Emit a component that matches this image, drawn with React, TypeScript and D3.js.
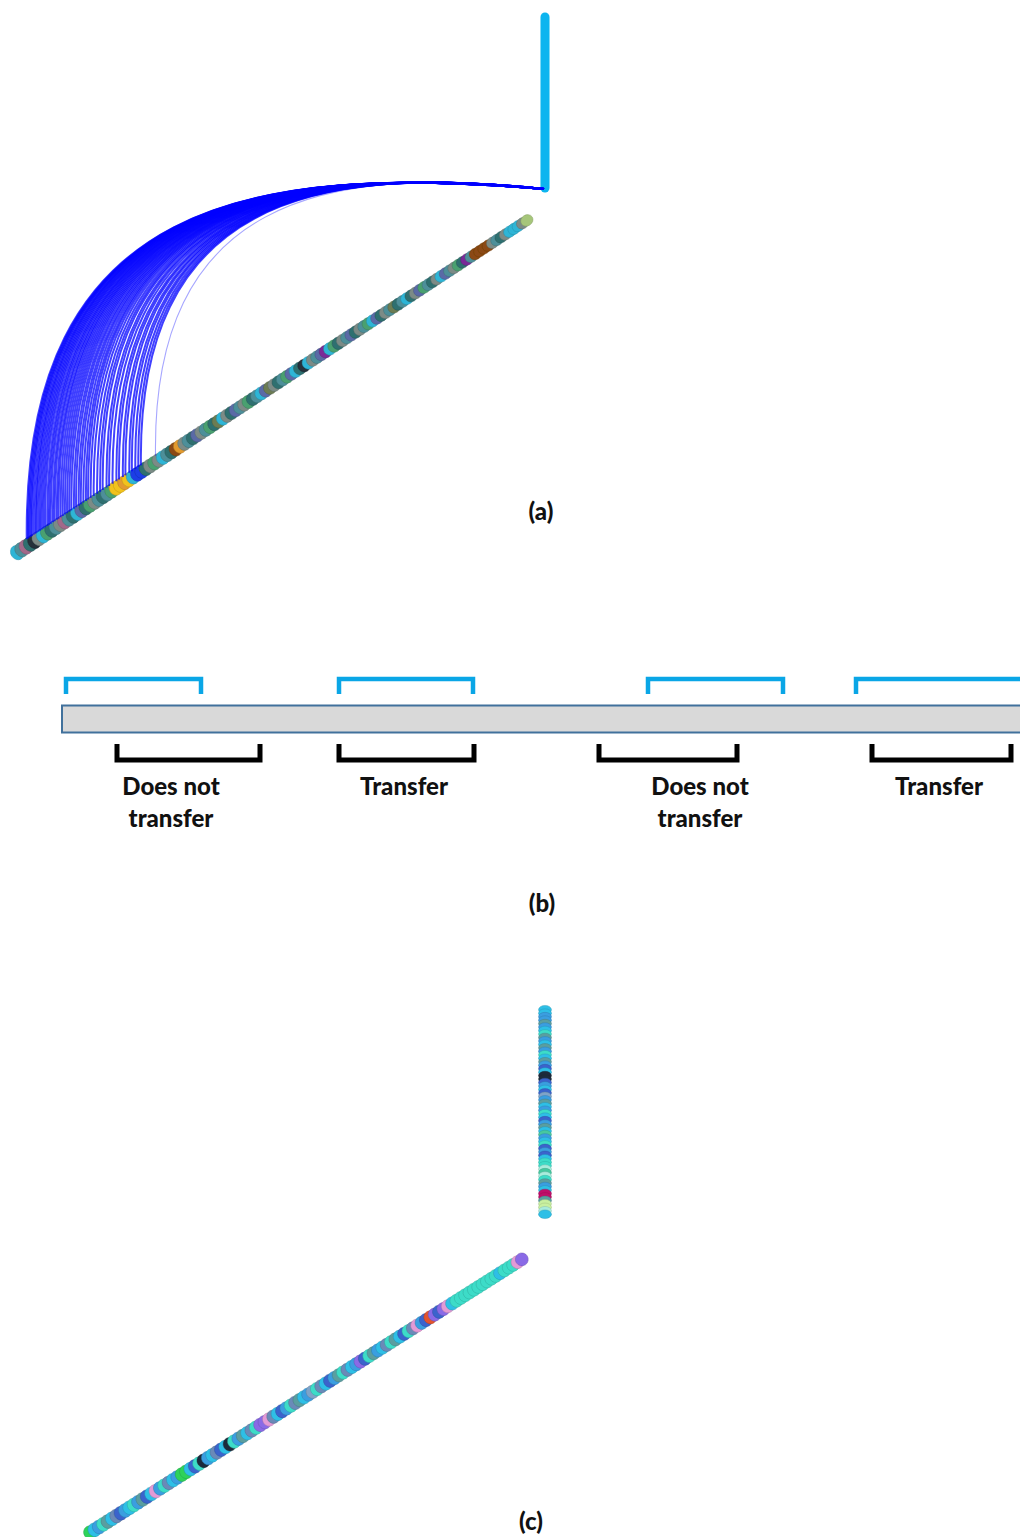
import React from 'react';
import * as d3 from 'd3';

// ---------- DATA ----------
// Panel (a): colours of the discs of the diagonal tube, bottom-left -> top-right
const paletteA: Record<string, string> = {
  a: '#2f6f6f', b: '#4d8f99', c: '#2fb5d6', d: '#7b8b86', e: '#6c7c52', f: '#5a6aa6',
  g: '#8b4a12', h: '#e39a2e', i: '#f2c21c', j: '#1c3de6', k: '#7a2a98', l: '#25303a',
  m: '#4aa070', n: '#a2698a', o: '#a6c67a',
};
const tubeA =
  'cbnaldcmab' + 'dnbacfamdb' + 'abmiihicjj' + 'admdcbaghd' + 'bafdbmaecd' + 'afbdmabcfe' +
  'dabmfcalcd' + 'bfkcmadbfa' + 'dbmcfadbea' + 'bcadfmbadc' + 'fbdmakbggg' + 'gdbadcccdo';
// disc indices (along tubeA) where the links start
const arcSourcesA = [
  3.0, 3.3, 3.6, 3.9, 4.2, 4.6, 5.0, 5.3, 5.7, 6.1, 6.5, 6.9, 7.3, 7.8, 8.2, 8.6, 9.1, 9.5,
  10.0, 10.4, 10.9, 11.4, 11.9, 12.4, 12.9, 13.4, 14.0, 14.5, 15.1, 15.6, 16.2, 16.8, 17.3,
  17.9, 18.6, 19.4, 20.1, 20.7, 21.6, 22.2, 23.0, 23.9, 24.5, 25.4, 26.0, 26.9, 27.5, 28.3,
  29.0, 29.6, 33.0,
];

// Panel (c)
const paletteC: Record<string, string> = {
  a: '#3ddcc8', b: '#2fbfe6', c: '#3a9ee0', d: '#3a64cc', e: '#6a8ab8', f: '#8a6ae6',
  g: '#e39ad6', h: '#2ed25a', i: '#1e2c3c', j: '#5a9ea0', k: '#e2532e', l: '#a8ecdc',
  m: '#c0106a', n: '#c8f0a0', o: '#46c8a0', p: '#7fa3c8',
};
const tubeCVertical =
  'bbccjcbajc' + 'bjcabjcdbi' + 'idcbdpcjbc' + 'abdcjbocba' + 'dcdbaalola' + 'jcbmmjnnlb';
const tubeCDiagonal =
  'hbcajbedcb' + 'acjdbgcaeb' + 'chhbdaicbe' + 'dbiacjbeaf' + 'fgebdcaejb' +
  'cpaebdcjae' + 'bcfdajcbea' + 'jbdaegcdkf' + 'dfgbaaaaaa' + 'aaaabaaagf';

// Panel (b): intervals along the sequence (arbitrary units)
const blueBrackets: [number, number][] = [[4, 139], [277, 411], [586, 721], [794, 990]];
const blackBrackets: [number, number][] = [[55, 198], [277, 412], [537, 675], [810, 949]];
const bracketLabels = [
  { lines: ['Does not', 'transfer'], pos: 109 },
  { lines: ['Transfer'], pos: 342 },
  { lines: ['Does not', 'transfer'], pos: 638 },
  { lines: ['Transfer'], pos: 877 },
];
const panelLabels = ['(a)', '(b)', '(c)'];

// ---------- COMPONENTS ----------
type TubeProps = {
  seq: string; palette: Record<string, string>;
  x1: number; y1: number; x2: number; y2: number; w1: number; w2: number;
};

function tubeGeom(p: TubeProps) {
  const n = p.seq.length;
  const t = d3.scaleLinear().domain([0, n]).range([0, 1]);
  const xs = d3.scaleLinear().domain([0, 1]).range([p.x1, p.x2]);
  const ys = d3.scaleLinear().domain([0, 1]).range([p.y1, p.y2]);
  const ws = d3.scaleLinear().domain([0, 1]).range([p.w1, p.w2]);
  const len = Math.hypot(p.x2 - p.x1, p.y2 - p.y1);
  const ang = Math.atan2(p.y2 - p.y1, p.x2 - p.x1);
  return { n, t, xs, ys, ws, len, ang, step: len / n };
}

function Tube(p: TubeProps) {
  const g = tubeGeom(p);
  const deg = (g.ang * 180) / Math.PI;
  return (
    <g filter="url(#soft)">
      {p.seq.split('').map((ch, i) => {
        const tt = g.t(i + 0.5);
        const col = p.palette[ch];
        const dk = d3.color(col)!.darker(0.8).formatHex();
        return (
          <ellipse
            key={i}
            cx={0}
            cy={0}
            rx={g.step * 1.25}
            ry={g.ws(tt) / 2}
            fill={col}
            stroke={dk}
            strokeOpacity={0.55}
            strokeWidth={0.7}
            transform={`translate(${g.xs(tt)},${g.ys(tt)}) rotate(${deg})`}
          />
        );
      })}
    </g>
  );
}

export default function App() {
  const W = 1020, H = 1537;

  // panel (a) geometry
  const tubeAProps: TubeProps = { seq: tubeA, palette: paletteA, x1: 15, y1: 554, x2: 529, y2: 219, w1: 15, w2: 11 };
  const gA = tubeGeom(tubeAProps);
  const vBar = { x: 545, y1: 17, y2: 188 };
  const end = { x: 544, y: 189 };
  const nx = Math.sin(gA.ang), ny = -Math.cos(gA.ang); // normal pointing up-left
  const arcs = arcSourcesA.map((s) => {
    const tt = gA.t(s + 0.5);
    const off = gA.ws(tt) / 2 - 1.5;
    const sx = gA.xs(tt) + nx * off;
    const sy = gA.ys(tt) + ny * off;
    const p = d3.path();
    p.moveTo(sx, sy);
    p.bezierCurveTo(sx - 4, 200, sx + 0.43 * (end.x - sx), 164, end.x, end.y);
    return { d: p.toString(), lone: s > 31 };
  });

  // panel (b)
  const xb = d3.scaleLinear().domain([0, 958]).range([62, 1020]);
  const barTop = 705.5, barH = 27;
  const blueTop = 679, blueLeg = 694;
  const blackLegTop = 744, blackBottom = 760;
  const font = "Lato, 'Open Sans', sans-serif";

  return (
    <svg width={W} height={H} style={{ position: 'absolute', left: 0, top: 0, background: '#fff' }}>
      <defs>
        <filter id="soft" filterUnits="userSpaceOnUse" x={0} y={0} width={W} height={H}>
          <feGaussianBlur stdDeviation={0.6} />
        </filter>
        <filter id="softArc" filterUnits="userSpaceOnUse" x={0} y={0} width={W} height={H}>
          <feGaussianBlur stdDeviation={0.4} />
        </filter>
      </defs>
      <rect width={W} height={H} fill="#fff" />

      {/* ---- panel (a) ---- */}
      <line x1={vBar.x} y1={vBar.y1} x2={vBar.x} y2={vBar.y2} stroke="#0bb5ef" strokeWidth={9} strokeLinecap="round" filter="url(#soft)" />
      <Tube {...tubeAProps} />
      <g filter="url(#softArc)" fill="none">
        {arcs.map((a, i) => (
          <path key={i} d={a.d} stroke="#0000ff" strokeWidth={a.lone ? 1.1 : 2} strokeOpacity={a.lone ? 0.35 : 0.75} />
        ))}
      </g>

      {/* ---- panel (b) ---- */}
      <rect x={xb(0)} y={barTop} width={xb(1000) - xb(0)} height={barH} fill="#d9d9d9" stroke="#41719c" strokeWidth={2} />
      {blueBrackets.map(([a, b], i) => (
        <path key={i} d={`M${xb(a)},${blueLeg}V${blueTop}H${xb(b)}V${blueLeg}`} fill="none" stroke="#0aa6e6" strokeWidth={4.5} />
      ))}
      {blackBrackets.map(([a, b], i) => (
        <path key={i} d={`M${xb(a)},${blackLegTop}V${blackBottom}H${xb(b)}V${blackLegTop}`} fill="none" stroke="#000" strokeWidth={5} />
      ))}
      {bracketLabels.map((l, i) => (
        <text key={i} x={xb(l.pos)} y={795} textAnchor="middle" fontFamily={font} fontWeight={900} fontSize={24} fill="#111">
          {l.lines.map((ln, j) => (
            <tspan key={j} x={xb(l.pos)} dy={j === 0 ? 0 : 32}>{ln}</tspan>
          ))}
        </text>
      ))}

      {/* ---- panel (c) ---- */}
      <Tube seq={tubeCVertical} palette={paletteC} x1={545} y1={1008} x2={545} y2={1216} w1={13} w2={13} />
      <Tube seq={tubeCDiagonal} palette={paletteC} x1={88} y1={1534} x2={524} y2={1258} w1={14} w2={13} />

      {/* panel labels */}
      {panelLabels.map((lab, i) => (
        <text key={lab} x={[541, 542, 531][i]} y={[520, 912, 1530][i]} textAnchor="middle" fontFamily={font} fontWeight={900} fontSize={24} fill="#111">
          {lab}
        </text>
      ))}
    </svg>
  );
}
